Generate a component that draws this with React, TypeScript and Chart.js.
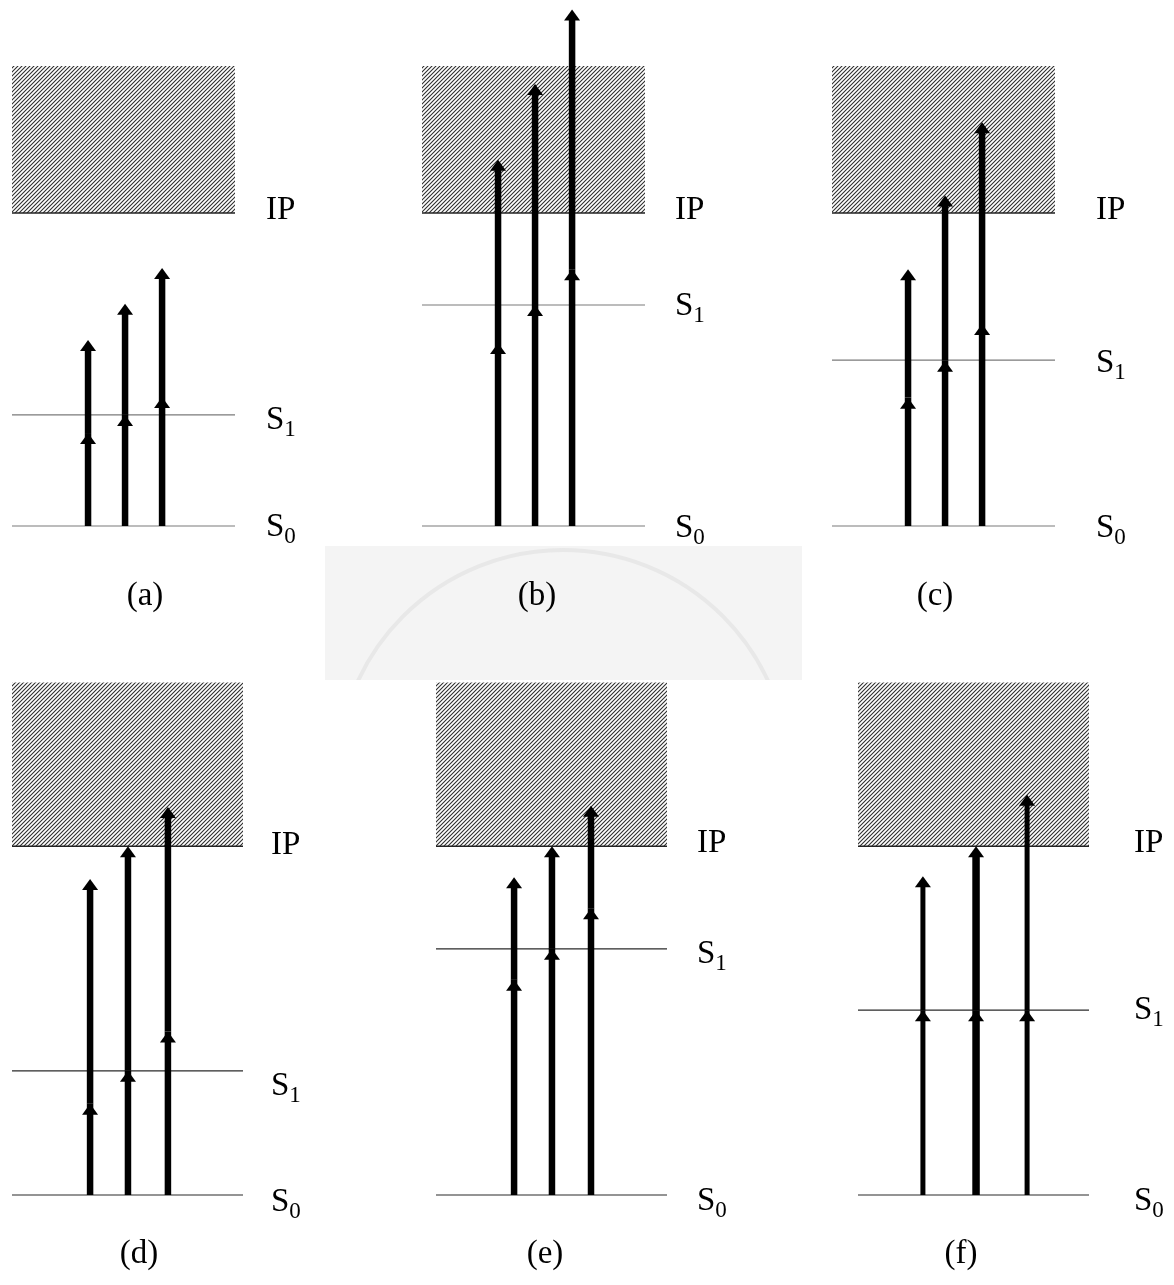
import { useEffect, useRef } from "react";
import { Chart, registerables } from "chart.js";

Chart.register(...registerables);

// Energies are given relative to the ground state S0 = 0, in units where the
// ionization potential IP = 100.
const groundLevel = 0;
const ionizationLevel = 100;
const continuumTop = 147;

const panelLabels = ["(a)", "(b)", "(c)", "(d)", "(e)", "(f)"];
const s1Levels = [35.5, 70.6, 53.0, 35.6, 70.6, 53.0];

// Photon energies of the three two-step excitation paths in each panel
const firstPhotonA = [29.7, 35.5, 41.2];
const secondPhotonA = [29.7, 35.5, 41.2];
const firstPhotonB = [58.5, 70.6, 82.0];
const secondPhotonB = [58.5, 70.6, 83.0];
const firstPhotonC = [41.0, 52.8, 64.5];
const secondPhotonC = [41.0, 52.8, 64.5];
const firstPhotonD = [26.2, 35.6, 46.9];
const secondPhotonD = [64.4, 64.4, 64.4];
const firstPhotonE = [61.7, 70.6, 82.2];
const secondPhotonE = [29.4, 29.4, 29.4];
const firstPhotonF = [53.0, 53.0, 53.0];
const secondPhotonF = [38.4, 47.0, 61.8];

const firstPhotons = [firstPhotonA, firstPhotonB, firstPhotonC, firstPhotonD, firstPhotonE, firstPhotonF];
const secondPhotons = [secondPhotonA, secondPhotonB, secondPhotonC, secondPhotonD, secondPhotonE, secondPhotonF];

// ---- page layout (pixels) ----
const topRow = { top: 0, height: 640, s0Px: 526, ipPx: 213, captionY: 578, lineColor: "#7a7a7a" };
const bottomRow = { top: 670, height: 615, s0Px: 1195, ipPx: 846.3, captionY: 1236, lineColor: "#2a2a2a" };

const panelLayouts = [
  { row: topRow, left: 0, width: 410, boxLeft: 12, boxRight: 235, arrowX: [34.1, 50.7, 67.3], shaft: [6.5, 6.5, 6.5], labelX: 266, dy: { ip: 6, s1: 14, s0: 10 }, captionX: 145 },
  { row: topRow, left: 410, width: 410, boxLeft: 422, boxRight: 645, arrowX: [34.1, 50.7, 67.3], shaft: [6.5, 6.5, 6.5], labelX: 675, dy: { ip: 6, s1: 10, s0: 11 }, captionX: 537 },
  { row: topRow, left: 820, width: 354, boxLeft: 832, boxRight: 1055, arrowX: [34.1, 50.7, 67.3], shaft: [6.5, 6.5, 6.5], labelX: 1096, dy: { ip: 6, s1: 12, s0: 11 }, captionX: 935 },
  { row: bottomRow, left: 0, width: 420, boxLeft: 12, boxRight: 243, arrowX: [33.8, 50.2, 67.5], shaft: [6.5, 6.5, 6.5], labelX: 271, dy: { ip: 8, s1: 24, s0: 16 }, captionX: 139 },
  { row: bottomRow, left: 420, width: 420, boxLeft: 436, boxRight: 667, arrowX: [33.8, 50.2, 67.1], shaft: [6.5, 6.5, 6.5], labelX: 697, dy: { ip: 6, s1: 14, s0: 15 }, captionX: 545 },
  { row: bottomRow, left: 840, width: 334, boxLeft: 858, boxRight: 1089, arrowX: [28.1, 51.1, 73.2], shaft: [5, 7.5, 5], labelX: 1134, dy: { ip: 6, s1: 9, s0: 15 }, captionX: 961 },
];

const serif = '"Liberation Serif", "Times New Roman", serif';
const headWidth = 16;
const headLength = 11;

function makeHatch(): CanvasPattern {
  const c = document.createElement("canvas");
  c.width = 4;
  c.height = 4;
  const g = c.getContext("2d")!;
  g.fillStyle = "#ffffff";
  g.fillRect(0, 0, 4, 4);
  g.strokeStyle = "#2e2e2e";
  g.lineWidth = 1.1;
  g.beginPath();
  g.moveTo(-1, 5);
  g.lineTo(5, -1);
  g.moveTo(-1, 1);
  g.lineTo(1, -1);
  g.moveTo(3, 5);
  g.lineTo(5, 3);
  g.stroke();
  return g.createPattern(c, "repeat")!;
}

// Draws each excitation path as a thick shaft with an arrow head at the
// end of every photon step, using the positions the scales computed.
const photonArrows = {
  id: "photonArrows",
  afterDatasetsDraw(chart: any) {
    const ctx = chart.ctx as CanvasRenderingContext2D;
    chart.data.datasets.forEach((ds: any, i: number) => {
      if (ds.role !== "arrow") return;
      const pts = chart.getDatasetMeta(i).data;
      ctx.save();
      ctx.strokeStyle = "#000";
      ctx.fillStyle = "#000";
      ctx.lineWidth = ds.shaftWidth;
      ctx.lineCap = "butt";
      for (let k = 1; k < pts.length; k++) {
        const a = pts[k - 1];
        const b = pts[k];
        const endY = k === pts.length - 1 ? b.y + headLength - 1 : b.y;
        ctx.beginPath();
        ctx.moveTo(a.x, a.y);
        ctx.lineTo(b.x, endY);
        ctx.stroke();
      }
      for (let k = 1; k < pts.length; k++) {
        const p = pts[k];
        ctx.beginPath();
        ctx.moveTo(p.x, p.y);
        ctx.lineTo(p.x + headWidth / 2, p.y + headLength);
        ctx.lineTo(p.x - headWidth / 2, p.y + headLength);
        ctx.closePath();
        ctx.fill();
      }
      ctx.restore();
    });
  },
};

// Names the IP, S1 and S0 levels to the right of each diagram.
const levelNames = {
  id: "levelNames",
  afterDraw(chart: any, _args: any, opts: any) {
    const ctx = chart.ctx as CanvasRenderingContext2D;
    const y = chart.scales.y;
    ctx.save();
    ctx.fillStyle = "#000";
    ctx.textBaseline = "alphabetic";
    ctx.textAlign = "left";
    const x = opts.x;
    ctx.font = `33px ${serif}`;
    ctx.fillText("IP", x, y.getPixelForValue(ionizationLevel) + opts.dy.ip);
    const drawState = (value: number, sub: string, dy: number) => {
      const py = y.getPixelForValue(value) + dy;
      ctx.font = `33px ${serif}`;
      ctx.fillText("S", x, py);
      const w = ctx.measureText("S").width;
      ctx.font = `23px ${serif}`;
      ctx.fillText(sub, x + w, py + 7);
    };
    drawState(opts.s1, "1", opts.dy.s1);
    drawState(groundLevel, "0", opts.dy.s0);
    ctx.restore();
  },
};

function EnergyPanel({ index }: { index: number }) {
  const ref = useRef<HTMLCanvasElement>(null);
  const lay = panelLayouts[index];
  const row = lay.row;

  useEffect(() => {
    const canvas = ref.current;
    if (!canvas) return;
    const unitPx = (row.s0Px - row.ipPx) / ionizationLevel;
    const yMax = (row.s0Px - row.top) / unitPx;
    const yMin = yMax - row.height / unitPx;
    const boxW = lay.boxRight - lay.boxLeft;
    const xMin = (-(lay.boxLeft - lay.left) * 100) / boxW;
    const xMax = xMin + (lay.width * 100) / boxW;

    const s1 = s1Levels[index];
    const first = firstPhotons[index];
    const second = secondPhotons[index];

    const level = (value: number, color: string, width: number) => ({
      data: [
        { x: 0, y: value },
        { x: 100, y: value },
      ],
      borderColor: color,
      borderWidth: width,
      pointRadius: 0,
      fill: false,
    });

    const arrows = first.map((e1, k) => ({
      role: "arrow",
      shaftWidth: lay.shaft[k],
      data: [
        { x: lay.arrowX[k], y: groundLevel },
        { x: lay.arrowX[k], y: groundLevel + e1 },
        { x: lay.arrowX[k], y: groundLevel + e1 + second[k] },
      ],
      showLine: false,
      pointRadius: 0,
    }));

    const chart = new Chart(canvas, {
      type: "line",
      data: {
        datasets: [
          ...arrows,
          level(ionizationLevel, "#222", 1.5),
          level(s1, row.lineColor, 1.2),
          level(groundLevel, row.lineColor, 1.2),
          {
            data: [
              { x: 0, y: continuumTop },
              { x: 100, y: continuumTop },
            ],
            borderWidth: 0,
            pointRadius: 0,
            fill: { value: ionizationLevel },
            backgroundColor: makeHatch(),
          },
        ] as any,
      },
      options: {
        animation: false,
        responsive: false,
        events: [],
        layout: { padding: 0 },
        scales: {
          x: { type: "linear", display: false, min: xMin, max: xMax },
          y: { type: "linear", display: false, min: yMin, max: yMax },
        },
        plugins: {
          legend: { display: false },
          tooltip: { enabled: false },
          levelNames: { x: lay.labelX - lay.left, s1, dy: lay.dy },
        } as any,
      },
      plugins: [photonArrows, levelNames],
    });
    return () => chart.destroy();
  }, [index]);

  return (
    <>
      <canvas
        ref={ref}
        width={lay.width}
        height={row.height}
        style={{ position: "absolute", left: lay.left, top: row.top, display: "block" }}
      />
      <div
        style={{
          position: "absolute",
          left: lay.captionX,
          top: row.captionY,
          transform: "translateX(-50%)",
          fontFamily: serif,
          fontSize: 33,
          lineHeight: "33px",
          color: "#000",
          whiteSpace: "nowrap",
        }}
      >
        {panelLabels[index]}
      </div>
    </>
  );
}

export default function App() {
  return (
    <div style={{ position: "absolute", left: 0, top: 0, width: 1174, height: 1285, background: "#fff", overflow: "hidden" }}>
      <div
        style={{
          position: "absolute",
          left: 325,
          top: 546,
          width: 477,
          height: 134,
          background: "#f4f4f4",
          overflow: "hidden",
        }}
      >
        <div
          style={{
            position: "absolute",
            left: 10,
            top: 2,
            width: 456,
            height: 456,
            borderRadius: "50%",
            border: "4px solid #e8e8e8",
            boxSizing: "border-box",
          }}
        />
      </div>
      {panelLabels.map((_, i) => (
        <EnergyPanel key={i} index={i} />
      ))}
    </div>
  );
}
